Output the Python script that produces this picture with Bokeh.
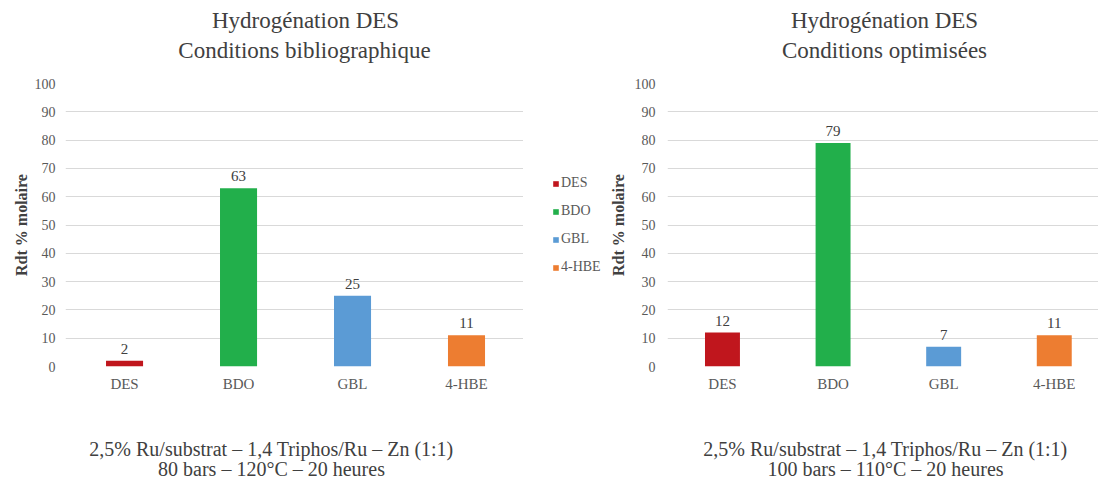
from bokeh.plotting import figure
from bokeh.models import (ColumnDataSource, FixedTicker, LabelSet, Legend, LegendItem, Label)
from bokeh.layouts import row, column
from bokeh.embed import file_html
from bokeh.resources import INLINE

categories = ["DES", "BDO", "GBL", "4-HBE"]
colors = ["#C0161D", "#22AF4B", "#5B9BD5", "#ED7D31"]
biblio_values = [2, 63, 25, 11]
optim_values = [12, 79, 7, 11]
y_ticks = [0, 10, 20, 30, 40, 50, 60, 70, 80, 90, 100]

title_line1 = "Hydrogénation DES"
left_title2 = "Conditions bibliographique"
right_title2 = "Conditions optimisées"
cond_line1 = "2,5% Ru/substrat – 1,4 Triphos/Ru – Zn (1:1)"
left_cond2 = "80 bars – 120°C – 20 heures"
right_cond2 = "100 bars – 110°C – 20 heures"
y_label = "Rdt % molaire"

SERIF = "Liberation Serif"
TXT = "#404040"
W = 1098


def strip(height):
    s = figure(width=W, height=height, output_backend="svg", toolbar_location=None,
               x_axis_location=None, y_axis_location=None,
               min_border_left=0, min_border_right=0, min_border_top=0, min_border_bottom=0)
    s.grid.visible = False
    s.outline_line_color = None
    return s


def label(fig, text, x, y, size):
    fig.add_layout(Label(x=x, y=y, x_units="screen", y_units="screen", text=text,
                         text_align="center", text_baseline="middle", text_font=SERIF,
                         text_font_size=size, text_color=TXT))


def make(values, width, border_left, xstart, xend, tick_standoff, label_standoff, bar_w):
    pos = list(range(len(categories)))
    src = ColumnDataSource(dict(x=pos, top=values, color=colors, cat=categories,
                                txt=[str(v) for v in values]))
    p = figure(width=width, height=348, output_backend="svg", toolbar_location=None,
               x_range=(xstart, xend), y_range=(0, 100),
               min_border_left=border_left, min_border_right=0,
               min_border_top=8, min_border_bottom=57)
    p.outline_line_color = None
    p.xgrid.visible = False
    p.ygrid.grid_line_color = "#D9D9D9"
    p.ygrid.grid_line_width = 1
    p.yaxis.ticker = FixedTicker(ticks=y_ticks)
    p.xaxis.ticker = FixedTicker(ticks=pos)
    p.xaxis.major_label_overrides = {i: c for i, c in enumerate(categories)}
    for ax in (p.xaxis[0], p.yaxis[0]):
        ax.axis_line_color = None
        ax.major_tick_line_color = None
        ax.minor_tick_line_color = None
        ax.major_tick_out = 0
        ax.major_tick_in = 0
        ax.minor_tick_out = 0
        ax.major_label_text_font = SERIF
        ax.major_label_text_color = "#595959"
    p.yaxis.major_label_text_font_size = "14px"
    p.xaxis.major_label_text_font_size = "15px"
    p.yaxis.major_label_standoff = tick_standoff
    p.xaxis.major_label_standoff = 9
    p.yaxis.axis_label = y_label
    p.yaxis.axis_label_text_font = SERIF
    p.yaxis.axis_label_text_font_size = "16px"
    p.yaxis.axis_label_text_font_style = "bold"
    p.yaxis.axis_label_text_color = TXT
    p.yaxis.axis_label_standoff = label_standoff

    p.vbar(x="x", top="top", width=bar_w, bottom=0, fill_color="color",
           line_color=None, source=src)
    p.add_layout(LabelSet(x="x", y="top", text="txt", source=src, y_offset=7,
                          text_align="center", text_baseline="bottom",
                          text_font=SERIF, text_font_size="15px",
                          text_color=TXT))
    return p


p1 = make(biblio_values, 523, 65, -0.518, 3.5, 10, 2, 0.325)
p2 = make(optim_values, 495, 64, -0.497, 3.4, 12, 5, 0.316)

# legend panel between the two charts
pl = figure(width=80, height=348, output_backend="svg", toolbar_location=None,
            x_range=(0, 1), y_range=(0, 1), min_border_left=0, min_border_right=0,
            min_border_top=8, min_border_bottom=57)
pl.axis.visible = False
pl.grid.visible = False
pl.outline_line_color = None
lsrc = ColumnDataSource(dict(x=[5, 5, 5, 5], top=[6, 6, 6, 6], color=colors, cat=categories))
lr = pl.vbar(x="x", top="top", bottom=5, width=0.5, fill_color="color",
             line_color=None, source=lsrc)
items = [LegendItem(label=c, renderers=[lr], index=i) for i, c in enumerate(categories)]
lg = Legend(items=items, location=(29, 89), padding=0, margin=0,
            spacing=8, label_height=20, glyph_height=7, glyph_width=7,
            label_standoff=2, label_text_font=SERIF,
            label_text_font_size="14px", label_text_color="#595959",
            border_line_color=None, background_fill_alpha=0)
pl.add_layout(lg)

# titles (top strip, 75 px tall)
top = strip(75)
label(top, title_line1, 305, 55, "23px")
label(top, left_title2, 304, 25, "23px")
label(top, title_line1, 884, 55, "23px")
label(top, right_title2, 884, 25, "23px")

# conditions (bottom strip, 57 px tall)
bottom = strip(57)
label(bottom, cond_line1, 271, 32, "20px")
label(bottom, left_cond2, 271, 12, "20px")
label(bottom, cond_line1, 885, 32, "20px")
label(bottom, right_cond2, 885, 12, "20px")

layout = column(top, row(p1, pl, p2), bottom)
open("out.html", "w").write(file_html(layout, INLINE))
